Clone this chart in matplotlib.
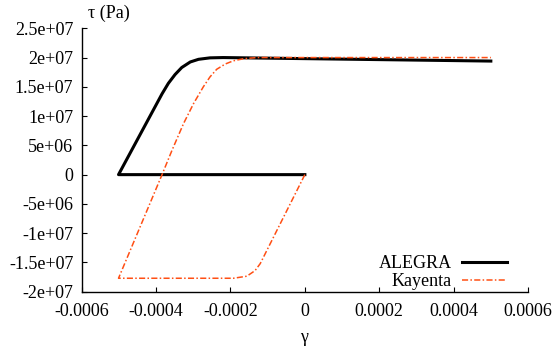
import matplotlib
matplotlib.use("Agg")
import matplotlib.pyplot as plt
from matplotlib.ticker import FixedLocator, FixedFormatter

plt.rcParams['font.family'] = ['Liberation Serif', 'DejaVu Serif']
plt.rcParams['axes.unicode_minus'] = False

# ALEGRA curve (strain, stress)
alegra_x = [0.0, -0.000501, -0.000384, -0.000367,
            -0.000349, -0.000331, -0.000308, -0.000286, -0.000255, -0.00022, 0.0005]
alegra_y = [0.0, 0.0, 1.38e7, 1.56e7,
            1.71e7, 1.83e7, 1.925e7, 1.97e7, 1.995e7, 2.0e7, 1.94e7]

# Kayenta curve (strain, stress)
kay_x = [0.0, -0.000120, -0.000134, -0.000156, -0.000192,
         -0.000501, -0.000384, -0.000357, -0.000326,
         -0.000299, -0.000273, -0.000255, -0.000237, -0.000214, -0.000192, -0.000165,
         -0.000129, 0.0005]
kay_y = [0.0, -1.52e7, -1.64e7, -1.735e7, -1.77e7,
         -1.77e7, 0.0, 4.19e6, 8.75e6,
         1.217e7, 1.50e7, 1.67e7, 1.80e7, 1.89e7, 1.945e7, 1.98e7,
         2.0e7, 2.0e7]

x_ticks = [-0.0006, -0.0004, -0.0002, 0.0, 0.0002, 0.0004, 0.0006]
x_tick_labels = ['-0.0006', '-0.0004', '-0.0002', '0', '0.0002', '0.0004', '0.0006']
y_ticks = [-2e7, -1.5e7, -1e7, -5e6, 0, 5e6, 1e7, 1.5e7, 2e7, 2.5e7]
y_tick_labels = ['-2e+07', '-1.5e+07', '-1e+07', '-5e+06', '0', '5e+06',
                 '1e+07', '1.5e+07', '2e+07', '2.5e+07']

fig = plt.figure(figsize=(5.55, 3.51), dpi=100)
ax = fig.add_axes([0.1472, 0.1689, 0.9514 - 0.1472, 0.9194 - 0.1689])

ax.plot(alegra_x, alegra_y, color='black', lw=2.2, label='ALEGRA',
        solid_joinstyle='round', zorder=3)
ax.plot(kay_x, kay_y, color='#ff4f14', lw=1.1, label='Kayenta',
        dashes=(4, 1.5, 1, 1.5), zorder=4)

ax.set_xlim(-0.0006, 0.0006)
ax.set_ylim(-2e7, 2.5e7)
ax.xaxis.set_major_locator(FixedLocator(x_ticks))
ax.xaxis.set_major_formatter(FixedFormatter(x_tick_labels))
ax.yaxis.set_major_locator(FixedLocator(y_ticks))
ax.yaxis.set_major_formatter(FixedFormatter(y_tick_labels))

for s in ['top', 'right']:
    ax.spines[s].set_visible(False)
for s in ['left', 'bottom']:
    ax.spines[s].set_linewidth(1.0)

ax.tick_params(axis='both', direction='in', length=3.5, width=0.8, labelsize=13)
ax.tick_params(axis='y', pad=6)
ax.tick_params(axis='x', pad=8)

fig.text(88 / 555, 1 - 13 / 351, 'τ (Pa)', fontsize=13, ha='left', va='center')
fig.text(304 / 555, 1 - 337 / 351, 'γ', fontsize=13, ha='center', va='center')

leg = ax.legend(loc='lower right', bbox_to_anchor=(507 / 555, 1 - 290 / 351),
                bbox_transform=fig.transFigure, frameon=False, markerfirst=False,
                fontsize=13, handlelength=2.5, handletextpad=0.55,
                borderpad=0, borderaxespad=0, labelspacing=0.05)

fig.savefig('out.png', dpi=100)
